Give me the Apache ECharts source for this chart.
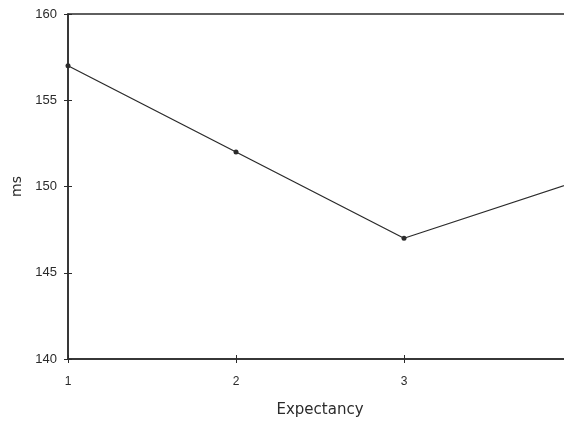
<!DOCTYPE html>
<html>
<head>
<meta charset="utf-8">
<script src="https://cdn.jsdelivr.net/npm/echarts@6/dist/echarts.min.js"></script>
<style>
  html, body { margin: 0; padding: 0; background: #fff; }
  #chart { width: 564px; height: 422px; }
</style>
</head>
<body>
<div id="chart"></div>
<script>
// Reaction time (ms) by expectancy level
const expectancy = ['1', '2', '3', '4'];
const reactionMs = [157, 152, 147, 150.2];
const yTicks = [140, 145, 150, 155, 160];

const ink = '#2b2b2b';
const font = '"Liberation Sans", Arial, sans-serif';
const nameFont = '"DejaVu Sans", sans-serif';

const chart = echarts.init(document.getElementById('chart'), null, { renderer: 'canvas' });
chart.setOption({
  animation: false,
  backgroundColor: '#ffffff',
  grid: {
    left: 68, top: 14, bottom: 63, width: 504,
    outerBoundsMode: 'none',
    containLabel: false,
    show: true, borderColor: ink, borderWidth: 1.5, backgroundColor: 'transparent'
  },
  xAxis: [{
    type: 'category',
    data: expectancy,
    boundaryGap: false,
    axisLine: { lineStyle: { color: ink, width: 1.5 } },
    axisTick: { show: true, length: 4, alignWithLabel: true, lineStyle: { color: ink } },
    axisLabel: {
      color: ink, fontFamily: font, fontSize: 12, margin: 17,
      formatter: v => (v === '4' ? '' : v)
    },
    splitLine: { show: false },
    name: 'Expectancy',
    nameLocation: 'middle',
    nameGap: 44,
    nameTextStyle: { color: ink, fontFamily: nameFont, fontSize: 15 }
  }, {
    // inner half of the crossing tick marks
    type: 'category',
    data: expectancy,
    boundaryGap: false,
    position: 'bottom',
    axisLine: { show: false },
    axisTick: { show: true, inside: true, length: 4, lineStyle: { color: ink } },
    axisLabel: { show: false },
    splitLine: { show: false }
  }],
  yAxis: [{
    type: 'value',
    min: yTicks[0],
    max: yTicks[yTicks.length - 1],
    interval: 5,
    axisLine: { show: true, lineStyle: { color: ink, width: 1.5 } },
    axisTick: { show: true, length: 4, lineStyle: { color: ink } },
    axisLabel: { color: ink, fontFamily: font, fontSize: 13, margin: 11 },
    splitLine: { show: false },
    name: 'ms',
    nameLocation: 'middle',
    nameGap: 44,
    nameTextStyle: { color: ink, fontFamily: nameFont, fontSize: 14 }
  }, {
    type: 'value',
    min: yTicks[0],
    max: yTicks[yTicks.length - 1],
    interval: 5,
    position: 'left',
    axisLine: { show: false },
    axisTick: { show: true, inside: true, length: 4, lineStyle: { color: ink } },
    axisLabel: { show: false },
    splitLine: { show: false }
  }],
  series: [{
    type: 'line',
    data: reactionMs,
    symbol: 'circle',
    symbolSize: 5,
    showSymbol: true,
    itemStyle: { color: ink },
    lineStyle: { color: ink, width: 1.3 }
  }]
});
</script>
</body>
</html>
